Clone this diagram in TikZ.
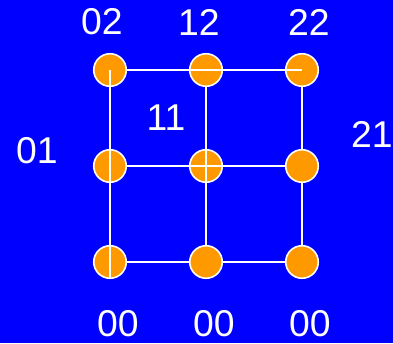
\documentclass[tikz,border=0pt]{standalone}
\usepackage{fontspec}
\setmainfont{Liberation Sans}
\definecolor{bgblue}{RGB}{0,0,255}
\definecolor{dotorange}{RGB}{255,153,0}
\begin{document}
\begin{tikzpicture}[x=0.75pt,y=-0.75pt,
  dot/.style={circle,fill=dotorange,draw=white,line width=1.2pt,minimum size=24.4pt,inner sep=0pt},
  lbl/.style={text=white,font=\fontsize{28}{32}\selectfont,inner sep=0pt},
  edge/.style={draw=white,line width=1.4pt}]
\fill[bgblue] (0,0) rectangle (393,343);
\useasboundingbox (0,0) rectangle (393,343);
% dots
\node[dot] (n02) at (110,70) {};
\node[dot] (n12) at (206,70) {};
\node[dot] (n22) at (302,70) {};
\node[dot] (n01) at (110,166) {};
\node[dot] (n11) at (206,166) {};
\node[dot] (n21) at (302,166) {};
\node[dot] (n00) at (110,262) {};
\node[dot] (n10) at (206,262) {};
\node[dot] (n20) at (302,262) {};
% connectors
\draw[edge] (n02.east) -- (n22.center);
\draw[edge] (n01.east) -- (n21.west);
\draw[edge] (n00.east) -- (n10.west);
\draw[edge] (n10.east) -- (n20.west);
\draw[edge] (n02.center) -- (n00.south);
\draw[edge] (n12.south) -- (n10.north);
\draw[edge] (n22.south) -- (n21.north);
\draw[edge] (n21.south) -- (n20.north);
% labels
\node[lbl] (l02) at (102,22) {02};
\node[lbl] (l12) at (199,22) {12};
\node[lbl] (l22) at (309,22) {22};
\node[lbl] (l11) at (166,118) {11};
\node[lbl] (l01) at (37,151) {01};
\node[lbl] (l21) at (372,134) {21};
\node[lbl] (l00a) at (118,324) {00};
\node[lbl] (l00b) at (214,324) {00};
\node[lbl] (l00c) at (310,324) {00};
\end{tikzpicture}
\end{document}
